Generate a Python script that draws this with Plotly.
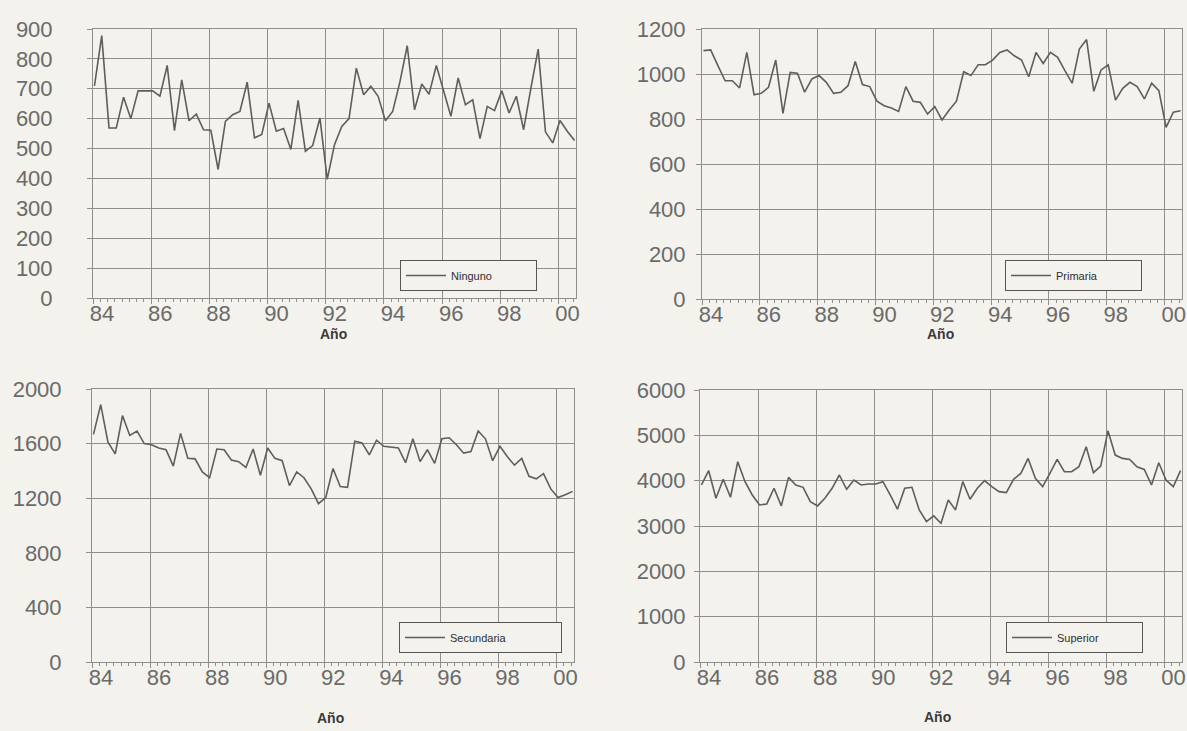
import plotly.graph_objects as go

# Quarterly series 1984Q1 - 2000Q3 (67 quarters)
inicio = 84.05    # first quarter position on the year axis
paso = 0.25

ninguno = [710, 878, 569, 569, 672, 600, 693, 693, 693, 675, 778, 560, 730, 593, 615, 563,
           561, 430, 591, 613, 624, 722, 536, 547, 652, 558, 567, 497, 661, 491, 510, 602,
           397, 513, 574, 600, 769, 680, 708, 675, 593, 624, 724, 844, 630, 716, 682, 778,
           693, 608, 736, 647, 663, 533, 641, 627, 693, 619, 675, 563, 702, 833, 556, 519,
           594, 558, 527]

primaria = [1104, 1107, 1037, 970, 970, 938, 1096, 908, 914, 941, 1062, 825, 1007, 1003, 919, 978,
            993, 963, 914, 919, 948, 1056, 953, 944, 879, 859, 849, 834, 944, 879, 874, 822,
            855, 796, 840, 879, 1010, 993, 1041, 1041, 1062, 1096, 1107, 1081, 1062, 988, 1096, 1047,
            1096, 1074, 1015, 959, 1111, 1153, 923, 1018, 1041, 884, 936, 963, 944, 889, 959, 926,
            763, 830, 837]

secundaria = [1668, 1885, 1610, 1525, 1805, 1660, 1692, 1600, 1592, 1568, 1555, 1435, 1675, 1492, 1488, 1392,
              1350, 1560, 1555, 1480, 1468, 1425, 1560, 1368, 1568, 1492, 1475, 1292, 1392, 1350, 1268, 1160,
              1205, 1418, 1285, 1280, 1618, 1605, 1518, 1625, 1580, 1575, 1568, 1460, 1635, 1468, 1555, 1455,
              1635, 1643, 1592, 1530, 1542, 1692, 1635, 1475, 1580, 1505, 1442, 1492, 1360, 1342, 1380, 1268,
              1205, 1225, 1250]

superior = [3905, 4220, 3612, 4030, 3634, 4418, 3978, 3685, 3465, 3487, 3832, 3443, 4073, 3905, 3853, 3538,
            3443, 3612, 3832, 4125, 3810, 4015, 3905, 3927, 3927, 3978, 3685, 3370, 3832, 3853, 3355, 3099,
            3223, 3062, 3575, 3355, 3978, 3590, 3832, 4000, 3868, 3758, 3736, 4030, 4161, 4491, 4051, 3868,
            4161, 4469, 4198, 4198, 4308, 4747, 4176, 4322, 5099, 4564, 4491, 4469, 4308, 4249, 3905, 4396,
            4015, 3868, 4220]

tick_years = [84, 86, 88, 90, 92, 94, 96, 98, 100]
tick_labels = ["84", "86", "88", "90", "92", "94", "96", "98", "00"]
x_title = "Año"

W, H = 1187, 731
BG = "#f4f2ec"
GRID = "#8e8e8c"
LINE = "#5e5e5e"
TXT = "#6a6a6a"
FONT = "Liberation Sans"

# panel pixel boxes: (left, right, top, bottom); title position (x, y) in px
panels = [
    dict(name="Ninguno", data=ninguno, box=(93, 576, 29, 298), ymax=900, dy=100,
         standoff=30, leg=(537, 291), title=(333, 334)),
    dict(name="Primaria", data=primaria, box=(702, 1182, 29, 299), ymax=1200, dy=200,
         standoff=6, leg=(1142, 291), title=(940, 334)),
    dict(name="Secundaria", data=secundaria, box=(92, 574, 389, 662), ymax=2000, dy=400,
         standoff=20, leg=(562, 653), title=(330, 718)),
    dict(name="Superior", data=superior, box=(700, 1182, 390, 662), ymax=6000, dy=1000,
         standoff=4, leg=(1143, 653), title=(937, 717)),
]

fig = go.Figure()
layout = dict(
    width=W, height=H,
    margin=dict(l=0, r=0, t=0, b=0),
    paper_bgcolor=BG, plot_bgcolor=BG,
    font=dict(family=FONT, color=TXT),
    showlegend=True,
)
annotations = []

for k, p in enumerate(panels, start=1):
    sfx = "" if k == 1 else str(k)
    x = [inicio + paso * i for i in range(len(p["data"]))]
    legname = "legend" if k == 1 else f"legend{k}"
    fig.add_trace(go.Scatter(
        x=x, y=p["data"], mode="lines", name=p["name"],
        line=dict(color=LINE, width=1.6),
        xaxis=f"x{sfx}", yaxis=f"y{sfx}", legend=legname,
    ))
    l, r, t, b = p["box"]
    layout[f"xaxis{sfx}"] = dict(
        domain=[l / W, r / W], anchor=f"y{sfx}", automargin=False,
        range=[84.0, 100.6],
        tickmode="array", tickvals=tick_years, ticktext=tick_labels,
        showgrid=True, gridcolor=GRID, gridwidth=1,
        showline=True, linecolor=GRID, linewidth=1, mirror=True,
        ticks="outside", ticklen=5, tickcolor=GRID,
        minor=dict(dtick=0.25, tick0=84, ticks="outside", ticklen=3, tickcolor=GRID, showgrid=False),
        tickfont=dict(size=22, color=TXT, family=FONT),
        ticklabelshift=9, ticklabelstandoff=-9, ticklabeloverflow="allow",
        zeroline=False,
    )
    layout[f"yaxis{sfx}"] = dict(
        domain=[1 - b / H, 1 - t / H], anchor=f"x{sfx}", automargin=False,
        range=[0, p["ymax"]], dtick=p["dy"], tick0=0,
        showgrid=True, gridcolor=GRID, gridwidth=1,
        showline=True, linecolor=GRID, linewidth=1, mirror=True,
        ticks="outside", ticklen=5, tickcolor=GRID,
        tickfont=dict(size=22, color=TXT, family=FONT),
        ticklabelstandoff=p["standoff"], ticklabeloverflow="allow",
        zeroline=False,
    )
    lx, ly = p["leg"]
    layout[legname] = dict(
        x=lx / W, y=1 - ly / H, xanchor="right", yanchor="bottom",
        xref="paper", yref="paper",
        bgcolor=BG, bordercolor="#555555", borderwidth=1,
        font=dict(size=11, color="#2e2e2e", family=FONT),
        orientation="h", entrywidth=80 if k != 3 else 106, itemwidth=40,
        tracegroupgap=0,
    )
    tx, ty = p["title"]
    annotations.append(dict(
        x=tx / W, y=1 - ty / H, xref="paper", yref="paper",
        text=f"<b>{x_title}</b>", showarrow=False,
        xanchor="center", yanchor="middle",
        font=dict(size=14, color="#3a3a3a", family=FONT),
    ))

layout["annotations"] = annotations
fig.update_layout(**layout)
fig.write_html("out.html",
               config={"displayModeBar": False},
               post_script="document.body.style.margin='0px';document.body.style.background='#f4f2ec';")
